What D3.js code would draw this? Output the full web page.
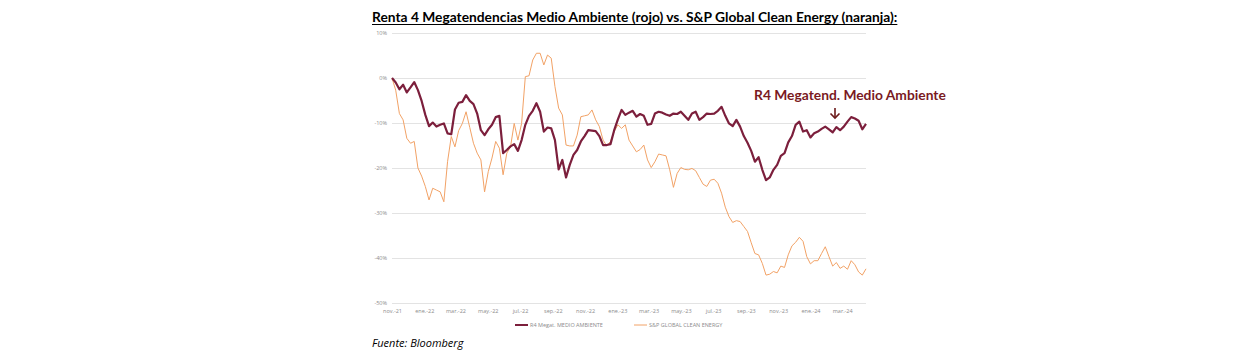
<!DOCTYPE html>
<html><head><meta charset="utf-8">
<script src="https://cdn.jsdelivr.net/npm/d3@7"></script>
<style>body{margin:0;background:#fff}svg{display:block}</style>
</head><body>
<svg id="c" width="1241" height="355"></svg>
<script>
const titleText = "Renta 4 Megatendencias Medio Ambiente (rojo) vs. S&P Global Clean Energy (naranja):";
const sourceText = "Fuente: Bloomberg";
const annotationText = "R4 Megatend. Medio Ambiente";
const seriesNames = ["R4 Megat. MEDIO AMBIENTE", "S&P GLOBAL CLEAN ENERGY"];
const startDate = "2021-11-01";
const endDate = "2024-04-15";
const yTicks = [10, 0, -10, -20, -30, -40, -50];
const xTickMonths = ["2021-11-01","2022-01-01","2022-03-01","2022-05-01","2022-07-01","2022-09-01","2022-11-01","2023-01-01","2023-03-01","2023-05-01","2023-07-01","2023-09-01","2023-11-01","2024-01-01","2024-03-01"];
const monthNames = ["ene.","feb.","mar.","abr.","may.","jun.","jul.","ago.","sep.","oct.","nov.","dic."];

const r4 = [0,-1.0,-2.5,-1.5,-3.2,-2.1,-0.9,-2.7,-5.1,-8.2,-10.7,-9.9,-10.8,-10.4,-10.1,-12.3,-12.5,-7.0,-5.5,-5.3,
 -3.8,-5.1,-5.8,-7.9,-11.6,-12.7,-11.4,-10.4,-8.7,-8.4,-16.7,-16.0,-15.2,-14.7,-16.2,-13.8,-10.4,-8.4,-7.3,-5.6,
 -7.5,-11.9,-11.0,-11.2,-13.8,-20.3,-18.2,-22.1,-19.3,-17.1,-16.0,-14.1,-12.9,-11.6,-11.7,-11.8,-12.9,-14.9,-14.9,-14.7,
 -11.6,-9.2,-7.1,-8.2,-7.7,-7.3,-8.6,-8.0,-8.4,-10.4,-10.2,-7.9,-7.5,-7.7,-8.1,-8.4,-7.9,-8.0,-7.5,-8.4,
 -9.3,-7.9,-7.5,-9.3,-8.7,-7.9,-8.0,-7.9,-7.3,-6.4,-8.4,-10.1,-10.7,-9.3,-10.8,-12.9,-14.4,-16.2,-18.6,-17.6,
 -20.4,-22.7,-22.1,-20.4,-19.3,-17.3,-16.7,-14.3,-12.9,-10.4,-9.7,-11.9,-11.6,-13.2,-12.3,-11.9,-11.3,-10.8,-11.4,-12.1,
 -10.9,-11.6,-10.8,-9.7,-8.7,-9.0,-9.5,-11.4,-10.2];
const spgce = [0,-2.7,-7.9,-9.3,-13.4,-14.5,-14.1,-20.0,-21.8,-24.1,-27.1,-24.5,-24.9,-25.3,-27.5,-18.6,-13.0,-15.3,-11.7,-10.1,
 -7.5,-11.0,-14.5,-16.7,-18.2,-25.3,-20.8,-17.8,-14.1,-15.6,-21.5,-16.7,-15.3,-10.1,-13.8,-10.1,0.3,0.5,4.0,5.5,
 5.5,2.9,5.1,4.4,-1.9,-6.7,-8.2,-14.9,-15.1,-15.1,-12.7,-8.6,-8.4,-8.2,-7.1,-9.3,-10.8,-13.8,-15.1,-14.1,
 -11.9,-10.4,-11.2,-10.4,-13.8,-15.1,-16.4,-15.9,-14.9,-18.2,-19.9,-18.6,-16.9,-17.1,-17.3,-20.4,-24.3,-21.2,-19.9,-20.3,
 -20.4,-20.1,-20.6,-22.1,-23.6,-24.1,-22.7,-22.5,-23.4,-25.6,-28.7,-30.8,-32.1,-31.7,-31.9,-33.0,-34.1,-36.6,-39.0,-39.3,
 -41.2,-43.8,-43.6,-43.0,-43.3,-41.8,-42.1,-39.3,-37.3,-36.5,-35.4,-36.3,-39.7,-41.3,-40.6,-40.6,-39.0,-37.5,-39.7,-41.8,
 -41.0,-42.3,-41.8,-42.5,-40.6,-41.5,-43.1,-43.8,-42.4];

const parse = d3.timeParse("%Y-%m-%d");
const t0 = parse(startDate);
const dates = r4.map((_, i) => d3.timeDay.offset(t0, 7 * i));

const svg = d3.select("#c");
const x = d3.scaleTime().domain([t0, parse(endDate)]).range([392, 866]);
const y = d3.scaleLinear().domain([-50, 10]).range([303, 33]);

const grey = "#8c8c8c";
// gridlines
svg.append("g").selectAll("line").data(yTicks).join("line")
  .attr("x1", 392).attr("x2", 866)
  .attr("y1", d => y(d) + 0.5).attr("y2", d => y(d) + 0.5)
  .attr("stroke", "#e3e3e3").attr("stroke-width", 1);

// y axis labels
const yAxis = d3.axisLeft(y).tickValues(yTicks).tickSize(0).tickPadding(0).tickFormat(d => d + "%");
const gy = svg.append("g").attr("transform", "translate(387,0)").call(yAxis);
gy.select(".domain").remove();
gy.selectAll("text").attr("fill", grey).style("font", "5.5px 'Open Sans'");

// x axis labels
const xAxis = d3.axisBottom(x).tickValues(xTickMonths.map(parse)).tickSize(0).tickPadding(0)
  .tickFormat(d => monthNames[d.getMonth()] + "-" + String(d.getFullYear()).slice(2));
const gx = svg.append("g").attr("transform", "translate(0,309)").call(xAxis);
gx.select(".domain").remove();
gx.selectAll("text").attr("fill", grey).style("font", "5.5px 'Open Sans'");

const line = d3.line().x((d, i) => x(dates[i])).y(d => y(d)).curve(d3.curveLinear);
svg.append("path").datum(spgce).attr("d", line).attr("fill", "none")
  .attr("stroke", "#f2a266").attr("stroke-width", 1).attr("stroke-linejoin", "round");
svg.append("path").datum(r4).attr("d", line).attr("fill", "none")
  .attr("stroke", "#7c1f3c").attr("stroke-width", 2.2).attr("stroke-linejoin", "round");

// legend
const lg = svg.append("g").style("font", "5.5px 'Open Sans'");
lg.append("line").attr("x1", 515).attr("x2", 528).attr("y1", 325).attr("y2", 325).attr("stroke", "#7c1f3c").attr("stroke-width", 2);
lg.append("text").attr("x", 530).attr("y", 327).attr("fill", grey).text(seriesNames[0]);
lg.append("line").attr("x1", 634).attr("x2", 647).attr("y1", 325).attr("y2", 325).attr("stroke", "#f2a266").attr("stroke-width", 1);
lg.append("text").attr("x", 649).attr("y", 327).attr("fill", grey).text(seriesNames[1]);

// title
const title = svg.append("text").attr("x", 372).attr("y", 22)
  .style("font", "bold 13px Lato").attr("fill", "#000").text(titleText);
let w = title.node().getComputedTextLength();
const fs = 13 * 526 / w;
title.style("font", `bold ${fs}px Lato`);
w = title.node().getComputedTextLength();
svg.append("line").attr("x1", 372).attr("x2", 372 + w).attr("y1", 24.5).attr("y2", 24.5).attr("stroke", "#000").attr("stroke-width", 1);

// annotation
const ann = svg.append("text").attr("x", 754).attr("y", 100)
  .style("font", "bold 13px Lato").attr("fill", "#7a1a1f").text(annotationText);
const aw = ann.node().getComputedTextLength();
ann.style("font", `bold ${13 * 192 / aw}px Lato`);
const ag = svg.append("g").attr("stroke", "#6b1a1a").attr("stroke-width", 1.6).attr("fill", "none");
ag.append("line").attr("x1", 835).attr("x2", 835).attr("y1", 108).attr("y2", 118);
ag.append("polyline").attr("points", "830.5,113.5 835,118 839.5,113.5");

// source
svg.append("text").attr("x", 372).attr("y", 347).style("font", "italic 11px 'Open Sans'").attr("fill", "#000").text(sourceText);
</script>
</body></html>
